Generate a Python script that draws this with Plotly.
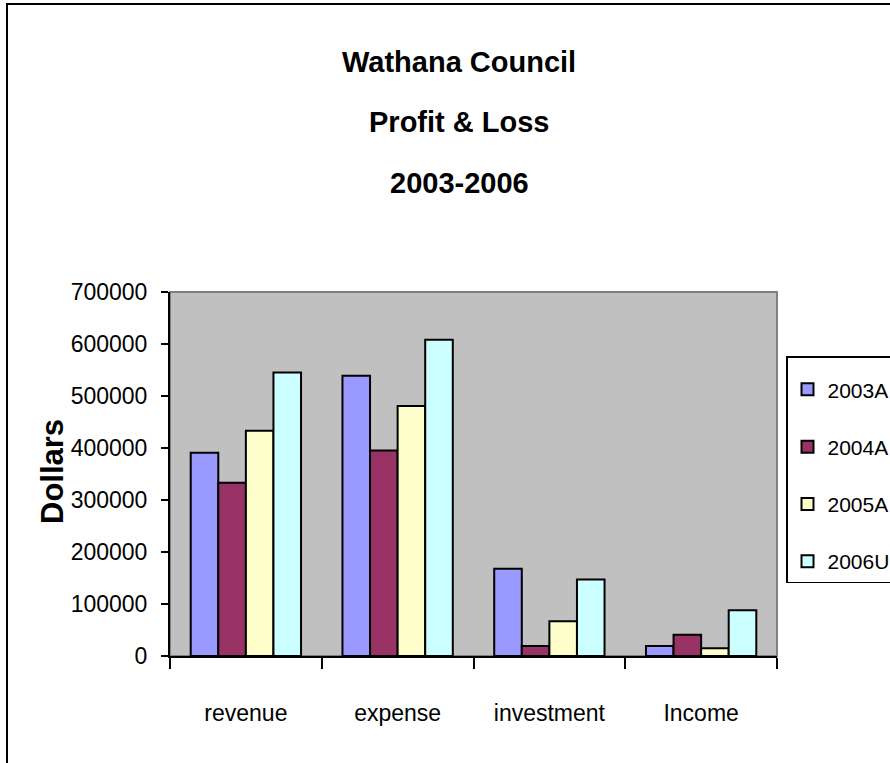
import plotly.graph_objects as go

categories = ["revenue", "expense", "investment", "Income"]
series_names = ["2003A", "2004A", "2005A", "2006U"]
values_2003A = [391000, 539000, 168000, 19000]
values_2004A = [333000, 395000, 19000, 41000]
values_2005A = [433000, 481000, 67000, 15000]
values_2006U = [545000, 608000, 147000, 88000]
series_values = [values_2003A, values_2004A, values_2005A, values_2006U]
colors = ["#9999FF", "#993366", "#FFFFCC", "#CCFFFF"]
y_ticks = [0, 100000, 200000, 300000, 400000, 500000, 600000, 700000]
title_lines = ["Wathana Council", "Profit & Loss", "2003-2006"]

FONT = "Liberation Sans, Arial, sans-serif"

fig = go.Figure()
for name, vals, col in zip(series_names, series_values, colors):
    fig.add_trace(go.Bar(
        x=categories, y=vals, name=name, legendgroup=name,
        marker=dict(color=col, line=dict(color="black", width=2)),
    ))

W, H = 890, 763
PL, PR, PT, PB = 170, 777, 292, 656  # plot area in page px
pw = PR - PL
ph = PB - PT

def px_x(x):
    return (x - PL) / pw

def px_y(y):
    return (PB - y) / ph

annotations = []
for line, ypix in zip(title_lines, [62, 122, 183]):
    annotations.append(dict(
        text="<b>" + line + "</b>", x=px_x(459), y=px_y(ypix),
        xref="paper", yref="paper", xanchor="center", yanchor="middle",
        showarrow=False, font=dict(family=FONT, size=29, color="black"),
    ))
annotations.append(dict(
    text="<b>Dollars</b>", x=px_x(52), y=px_y(472), xref="paper", yref="paper",
    xanchor="center", yanchor="middle", textangle=-90, showarrow=False,
    font=dict(family=FONT, size=31, color="black"),
))

shapes = [
    dict(type="rect", xref="paper", yref="paper", x0=0, x1=1, y0=0, y1=1,
         line=dict(color="#808080", width=2), layer="below"),
    dict(type="rect", xref="paper", yref="paper", x0=px_x(7), x1=2, y0=-1,
         y1=px_y(4), line=dict(color="black", width=2),
         fillcolor="rgba(0,0,0,0)"),
]

fig.update_layout(
    width=W, height=H,
    margin=dict(l=PL, r=W - PR, t=PT, b=H - PB, autoexpand=False),
    paper_bgcolor="white", plot_bgcolor="#C0C0C0",
    barmode="group", bargap=0.273, bargroupgap=0,
    showlegend=True,
    legend=dict(
        x=px_x(786), y=px_y(356), xanchor="left", yanchor="top",
        bordercolor="black", borderwidth=1.5, bgcolor="white",
        font=dict(family=FONT, size=21, color="black"),
        tracegroupgap=27, itemwidth=30,
        title=dict(text=" ", font=dict(size=9)),
    ),
    annotations=annotations,
    shapes=shapes,
    font=dict(family=FONT, color="black"),
)
fig.update_xaxes(
    type="category", showline=True, linecolor="black", linewidth=2,
    ticks="outside", tickson="boundaries", ticklen=11, tickwidth=1.5, tickcolor="black",
    tickfont=dict(family=FONT, size=23, color="black"), ticklabelstandoff=35,
    showgrid=False, zeroline=False,
)
fig.update_yaxes(
    range=[0, 700000], tickvals=y_ticks, tickformat="d",
    showline=True, linecolor="black", linewidth=2,
    ticks="outside", ticklen=7, tickwidth=1.5, tickcolor="black",
    tickfont=dict(family=FONT, size=23, color="black"), ticklabelstandoff=9,
    showgrid=False, zeroline=False,
)

fig.write_html(
    "out.html",
    config={"displayModeBar": False},
    post_script="document.body.style.margin='0px';document.body.style.overflow='hidden';",
)
